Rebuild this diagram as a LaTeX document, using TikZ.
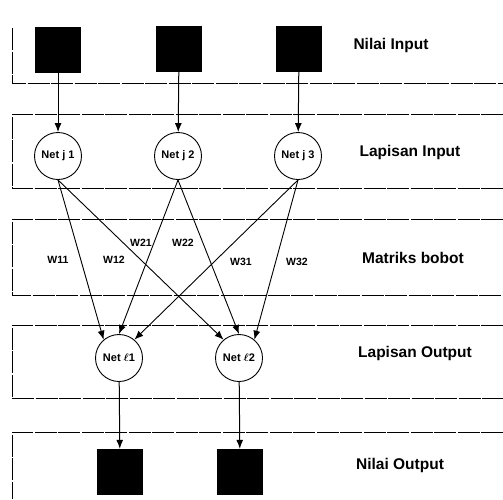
\documentclass[tikz,border=0pt]{standalone}
\usepackage{fontspec}
\setmainfont{Liberation Sans}
\usetikzlibrary{positioning,arrows.meta}
\tikzset{
    x=1pt,
    y=-1pt,
    band/.style = {
        draw,
        dash pattern=on 22pt off 1.5pt,
        line width=0.7pt
    },
    unit/.style = {
        fill=black,
        shape=rectangle,
        minimum size=46pt,
        inner sep=0pt
    },
    neuron/.style = {
        draw,
        shape=circle,
        minimum size=47pt,
        inner sep=0pt,
        line width=0.9pt,
        font=\bfseries\boldmath\fontsize{11}{12}\selectfont
    },
    layer/.style = {
        font=\bfseries\fontsize{15.5}{17}\selectfont
    },
    weight/.style = {
        font=\bfseries\fontsize{10.5}{11}\selectfont
    },
    >={Latex[length=9pt,width=7pt]},
}
\begin{document}
\begin{tikzpicture}
                \useasboundingbox (0,0) rectangle (503,499);

                % the five layers
                \draw[band] (12,28) -- (12,83) -- (503,83);
                \draw[band] (503,114) -| (12,188) -- (503,188);
                \draw[band] (503,219) -| (12,295) -- (503,295);
                \draw[band] (503,325) -| (12,398) -- (503,398);
                \draw[band] (503,432) -| (12,499);

                \node[unit] (in1) at (58,50) {};
                \node[unit] (in2) at (179,49) {};
                \node[unit] (in3) at (299,49) {};
                \node[neuron] (j1) at (58,156) {Net j 1};
                \node[neuron] (j2) at (178,156) {Net j 2};
                \node[neuron] (j3) at (298,156) {Net j 3};
                \node[neuron] (l1) at (119,358) {Net $\ell$1};
                \node[neuron] (l2) at (239,358) {Net $\ell$2};
                \node[unit] (out1) at (120,472) {};
                \node[unit] (out2) at (240,472) {};

                \node[layer] (nin) at (391,45) {Nilai Input};
                \node[layer] (lin) at (410,152) {Lapisan Input};
                \node[layer] (mat) at (413,258) {Matriks bobot};
                \node[layer] (lout) at (415,353) {Lapisan Output};
                \node[layer] (nout) at (400,465) {Nilai Output};

                \node[weight] (w11) at (58,260) {W11};
                \node[weight] (w12) at (114,260) {W12};
                \node[weight] (w21) at (141,243) {W21};
                \node[weight] (w22) at (183,243) {W22};
                \node[weight] (w31) at (241,262) {W31};
                \node[weight] (w32) at (297,262) {W32};

                \path[draw, line width=1pt, ->] (in1) -- (j1);
                \path[draw, line width=1pt, ->] (in2) -- (j2);
                \path[draw, line width=1pt, ->] (in3) -- (j3);

                \path[draw, line width=0.9pt, ->] (j1.south) -- (l1.130);
                \path[draw, line width=0.9pt, ->] (j1.south) -- (l2.130);
                \path[draw, line width=0.9pt, ->] (j2.south) -- (l1.90);
                \path[draw, line width=0.9pt, ->] (j2.south) -- (l2.90);
                \path[draw, line width=0.9pt, ->] (j3.south) -- (l1.50);
                \path[draw, line width=0.9pt, ->] (j3.south) -- (l2.50);

                \path[draw, line width=1pt, ->] (l1) -- (out1);
                \path[draw, line width=1pt, ->] (l2) -- (out2);
            \end{tikzpicture}
\end{document}
